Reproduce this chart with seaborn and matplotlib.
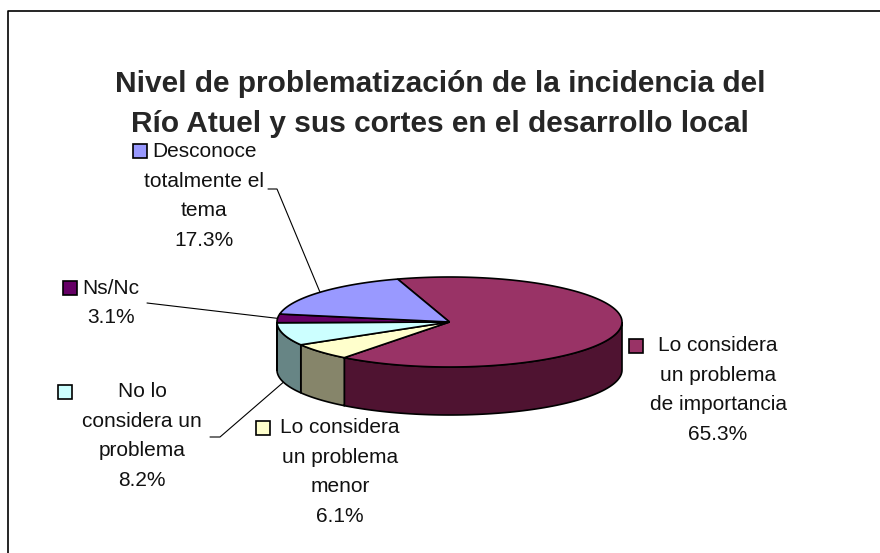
import numpy as np
import matplotlib
matplotlib.use("Agg")
import matplotlib.pyplot as plt
from matplotlib.patches import Polygon, Rectangle
import seaborn as sns

# datos del gráfico
categorias = ["Lo considera\nun problema\nde importancia",
              "Lo considera\nun problema\nmenor",
              "No lo\nconsidera un\nproblema",
              "Ns/Nc",
              "Desconoce\ntotalmente el\ntema"]
porcentajes = [65.3, 6.1, 8.2, 3.1, 17.3]
colores_sup = ["#993366", "#FFFFCC", "#CCFFFF", "#660066", "#9999FF"]
colores_lat = ["#4F1331", "#86856A", "#678585", "#330033", "#4D4D80"]
titulo = "Nivel de problematización de la incidencia del\nRío Atuel y sus cortes en el desarrollo local"

sns.set_style("white")
plt.rcParams['font.family'] = ['Liberation Sans', 'DejaVu Sans']

# geometría del pastel 3D (en píxeles)
cx, cy, rx, ry, prof = 449.5, 322, 172.5, 45, 48
ang0 = 107.5

fig = plt.figure(figsize=(8.8, 5.53), dpi=100)
ax = fig.add_axes([0, 0, 1, 1])
ax.set_xlim(0, 880)
ax.set_ylim(553, 0)
ax.axis('off')


def punto(t, dz=0):
    r = np.radians(t)
    return cx + rx * np.cos(r), cy - ry * np.sin(r) + dz


# ángulos de cada porción (sentido horario)
total = sum(porcentajes)
limites = [ang0]
for v in porcentajes:
    limites.append(limites[-1] - 360 * v / total)

# paredes laterales (sólo la mitad frontal)
for i in range(len(porcentajes)):
    a_ini, a_fin = limites[i], limites[i + 1]
    for k in (-1, 0, 1):
        lo = max(a_fin, -180 + 360 * k)
        hi = min(a_ini, 360 * k)
        if hi <= lo:
            continue
        ts = np.linspace(hi, lo, 80)
        arriba = [punto(t) for t in ts]
        abajo = [punto(t, prof) for t in ts[::-1]]
        ax.add_patch(Polygon(arriba + abajo, closed=True, facecolor=colores_lat[i],
                             edgecolor="black", lw=1.2, zorder=2))

# cara superior
for i in range(len(porcentajes)):
    ts = np.linspace(limites[i], limites[i + 1], 200)
    pts = [(cx, cy)] + [punto(t) for t in ts]
    ax.add_patch(Polygon(pts, closed=True, facecolor=colores_sup[i],
                         edgecolor="black", lw=1.2, zorder=3))

# etiquetas
pos_texto = [(718, 390), (340, 472), (142, 436), (111, 303), (204, 196)]
pos_cuadro = [(629, 339), (256, 421), (58, 385), (63, 281), (133, 144)]
for i, cat in enumerate(categorias):
    x, y = pos_texto[i]
    ax.text(x, y, f"{cat}\n{porcentajes[i]:.1f}%", ha="center", va="center",
            multialignment="center", fontsize=15, linespacing=1.72, color="#111111")
    qx, qy = pos_cuadro[i]
    ax.add_patch(Rectangle((qx, qy), 14, 14, facecolor=colores_sup[i],
                           edgecolor="black", lw=1.2, zorder=4))

# líneas guía
def guia(i, origen, codo, dz):
    t = (limites[i] + limites[i + 1]) / 2
    px, py = punto(t, dz)
    xs = [origen[0], codo[0], px]
    ys = [origen[1], codo[1], py]
    ax.plot(xs, ys, color="black", lw=0.8, zorder=5)

guia(4, (268, 189), (277, 189), 0)
guia(3, (147, 303), (147, 303), 0)
guia(2, (210, 437), (220, 437), prof)

ax.text(440, 104, titulo, ha="center", va="center", fontsize=21.5,
        fontweight="bold", linespacing=1.5)

# borde del área del gráfico
ax.plot([8, 8, 900], [600, 11, 11], color="black", lw=1.2, clip_on=False)

fig.savefig("out.png", dpi=100)
